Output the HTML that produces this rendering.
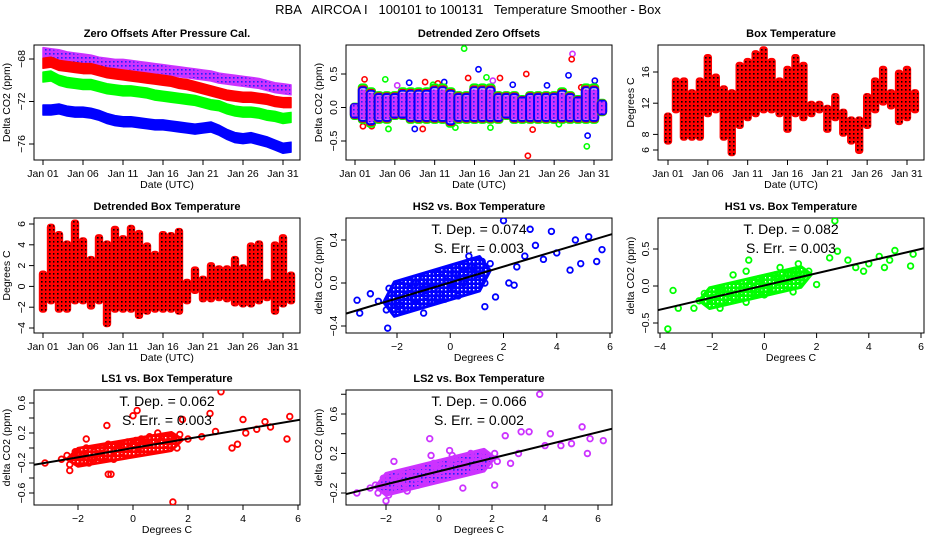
<!DOCTYPE html>
<html><head><meta charset="utf-8"><style>
body{margin:0;background:#fff;}
svg{display:block;font-family:"Liberation Sans",sans-serif;}
</style></head><body>
<svg id="c" width="936" height="540" viewBox="0 0 936 540">
<defs>
<pattern id="patRed" width="4" height="4" patternUnits="userSpaceOnUse"><rect width="4" height="4" fill="#ff0000"/><rect x="1" y="1" width="1.6" height="1.6" fill="#000"/></pattern>
<pattern id="patPurple" width="4" height="4" patternUnits="userSpaceOnUse"><rect width="4" height="4" fill="#cc33ff"/><rect x="1" y="1" width="1.6" height="1.6" fill="#2222ff"/></pattern>
<pattern id="patBlue" width="4" height="4" patternUnits="userSpaceOnUse"><rect width="4" height="4" fill="#0000ff"/><rect x="1" y="1" width="1.4" height="1.4" fill="#fff"/></pattern>
<pattern id="patGreen" width="4" height="4" patternUnits="userSpaceOnUse"><rect width="4" height="4" fill="#00ff00"/><rect x="1" y="1" width="1.4" height="1.4" fill="#fff"/></pattern>
<pattern id="patRed2" width="4" height="4" patternUnits="userSpaceOnUse"><rect width="4" height="4" fill="#ff0000"/><rect x="1" y="1" width="1.4" height="1.4" fill="#fff"/></pattern>
</defs>
<text x="468" y="14" font-size="13" text-anchor="middle" style="white-space:pre">RBA   AIRCOA I   100101 to 100131   Temperature Smoother - Box</text>
</svg>
<script>
// ---------- data ----------
const dayTicks = [0,5,10,15,20,25,30];
const dayTickLabels = ["Jan 01","Jan 06","Jan 11","Jan 16","Jan 21","Jan 26","Jan 31"];
const zeroLS2 = [-67.4,-67.5,-67.6,-67.8,-67.9,-68.0,-68.1,-68.3,-68.4,-68.5,-68.5,-68.6,-68.7,-68.8,-68.9,-69.0,-69.1,-69.2,-69.3,-69.4,-69.5,-69.6,-69.8,-69.9,-70.0,-70.1,-70.2,-70.3,-70.5,-70.7,-70.8,-70.9];
const zeroLS1 = [-68.4,-68.3,-68.6,-68.7,-68.8,-68.9,-68.9,-69.1,-69.3,-69.4,-69.5,-69.6,-69.7,-69.8,-69.9,-70.0,-70.1,-70.3,-70.4,-70.6,-70.8,-71.0,-71.2,-71.4,-71.5,-71.6,-71.6,-71.7,-71.8,-72.0,-72.1,-72.1];
const zeroHS1 = [-69.7,-69.6,-70.0,-70.2,-70.3,-70.4,-70.4,-70.6,-70.8,-70.9,-71.0,-71.0,-71.1,-71.2,-71.4,-71.5,-71.6,-71.7,-71.8,-71.9,-72.1,-72.3,-72.4,-72.7,-72.9,-73.0,-73.0,-73.1,-73.3,-73.4,-73.6,-73.5];
const zeroHS2 = [-72.8,-72.8,-72.7,-72.9,-73.0,-73.0,-73.1,-73.3,-73.6,-73.8,-73.9,-73.9,-74.0,-74.1,-74.2,-74.2,-74.3,-74.4,-74.5,-74.6,-74.5,-74.4,-74.7,-75.1,-75.4,-75.5,-75.4,-75.6,-75.8,-76.1,-76.4,-76.3];
const detLo = [-0.15,-0.2,-0.25,-0.2,-0.2,-0.15,-0.15,-0.2,-0.2,-0.2,-0.2,-0.2,-0.25,-0.2,-0.2,-0.2,-0.2,-0.2,-0.2,-0.15,-0.2,-0.2,-0.2,-0.2,-0.2,-0.2,-0.2,-0.2,-0.2,-0.2,-0.2,-0.1];
const detHi = [0.05,0.3,0.25,0.2,0.2,0.2,0.25,0.25,0.25,0.25,0.3,0.3,0.25,0.2,0.2,0.3,0.3,0.3,0.2,0.2,0.2,0.15,0.2,0.2,0.2,0.2,0.25,0.2,0.15,0.3,0.3,0.1];
const detOutDay = [13.7,15.5,21.7,21.5,27.3,27.2,14.2,29.1,29.2,3.8,1.2,4.2,8.5,8.8,22.3,26.8,9.8,16.5,17.3,7.5,18.2,11.2,2.1,5.3,12.6,19.8,24.1,30.1,1.0,6.8,10.4,17.0,25.6,28.4];
const detOutVal = [0.88,0.57,-0.72,0.5,0.8,0.72,0.44,-0.58,-0.42,0.42,0.42,-0.32,-0.32,0.38,-0.33,0.48,0.34,0.45,0.4,-0.32,0.44,0.38,-0.28,0.33,-0.3,0.34,0.33,0.4,-0.28,0.37,0.36,-0.3,-0.25,0.3];
const detOutCol = ["#00ff00","#0000ff","#ff0000","#ff0000","#cc33ff","#ff0000","#ff0000","#00ff00","#0000ff","#00ff00","#ff0000","#00ff00","#ff0000","#ff0000","#ff0000","#0000ff","#00ff00","#00ff00","#cc33ff","#0000ff","#ff0000","#0000ff","#ff0000","#cc33ff","#00ff00","#0000ff","#0000ff","#0000ff","#ff0000","#0000ff","#ff0000","#00ff00","#00ff00","#ff0000"];
const boxMin = [7,11,7.5,7.5,7.5,10.5,11,7.5,5.5,9,10,10.5,11,11,10.5,8.5,10.5,10,10.5,11,8.5,10,8,7,5.8,9,11,12,11.5,9.5,10,11];
const boxMax = [10.5,15,15,13.5,15,18,15.5,14,13.5,17,17.5,18.5,19,17.5,15,16.5,18,17,12,12,11.5,13,11,10,10,13,15,16.5,13.5,16,16.5,13.5];
const dtMin = [-2.3,-1.5,-2.3,-2.3,-1.5,-1.5,-2,-1.5,-3.7,-2.3,-2.3,-2.3,-2.9,-2.5,-2.3,-2.3,-2.3,-2.5,-1.5,-0.5,-1.3,-1.3,-1.2,-1.3,-1.7,-1.8,-1.8,-1.5,-1.2,-2.5,-1.8,-1.5];
const dtMax = [1.3,5.8,5.1,4.2,6.2,4.5,2.7,4.8,4.2,5.6,4.7,5.7,5.2,4.0,3.2,5.1,5.0,5.4,0.5,1.7,0.8,2.1,1.8,1.8,2.7,1.9,4.0,4.2,0.5,4.1,4.8,1.2];
const hs2X = [-2.4,-2.3,-2.2,-2.0,-1.9,-1.8,-1.7,-1.6,-1.5,-1.4,-1.3,-1.2,-1.1,-1.0,-0.9,-0.8,-0.7,-0.6,-0.5,-0.4,-0.3,-0.2,-0.1,0,0.1,0.2,0.3,0.4,0.5,0.6,0.7,0.8,0.9,1.0,1.1,1.2,1.3,1.5,-1.5,-1.0,-0.5,0,0.5,-2.0,-1.2,-0.3,0.3,0.8,-3.5,-3.4,-3.0,-2.7,-2.35,1.3,1.7,2.0,3.0,3.8,2.8,2.5,3.2,4.0,4.5,4.7,5.2,5.5,5.7,4.9,2.2,3.5,2.4];
const hs2Y = [-0.25,-0.05,-0.18,-0.1,-0.2,-0.02,-0.12,-0.25,-0.05,-0.15,0.0,-0.2,-0.08,-0.28,-0.12,0.0,-0.18,-0.05,0.1,-0.1,0.05,-0.15,0.02,0.12,-0.05,0.08,-0.12,0.15,0.0,0.1,0.25,0.05,0.15,0.08,0.12,0.2,0.0,0.18,-0.1,-0.05,-0.15,-0.05,0.05,-0.22,0.05,0.12,0.02,0.15,-0.16,-0.28,-0.1,-0.17,-0.42,-0.22,-0.13,0.58,0.5,0.48,0.25,0.15,0.35,0.28,0.12,0.4,0.43,0.2,0.31,0.18,0.0,0.22,-0.02];
const hs1X = [-2.5,-2.3,-2.1,-2.0,-1.8,-1.7,-1.5,-1.4,-1.3,-1.1,-1.0,-0.9,-0.8,-0.7,-0.6,-0.5,-0.4,-0.3,-0.2,-0.1,0,0.1,0.2,0.3,0.4,0.5,0.6,0.8,0.9,1.0,1.2,1.3,1.5,1.7,-1.9,-1.2,-0.6,0,0.6,1.1,-3.7,-3.5,-3.3,-2.7,-0.7,2.7,2.8,3.2,3.5,4.0,4.4,4.8,5.0,5.6,5.7,2.0,2.5,3.8,4.6,1.3,-1.7];
const hs1Y = [-0.2,-0.1,-0.25,-0.15,-0.2,-0.08,-0.18,-0.05,-0.2,-0.1,0.0,-0.15,-0.05,-0.22,0.02,-0.1,0.05,-0.08,0.1,0.0,0.05,-0.05,0.12,0.0,0.15,0.05,0.08,0.02,0.15,0.1,0.2,0.08,0.15,0.2,-0.05,0.15,0.35,-0.12,0.25,-0.08,-0.58,-0.06,-0.3,-0.3,0.2,0.88,0.47,0.35,0.25,0.3,0.4,0.35,0.48,0.27,0.43,0.02,0.38,0.2,0.25,0.3,-0.3];
const ls1X = [-2.6,-2.4,-2.3,-2.1,-2.0,-1.8,-1.7,-1.5,-1.4,-1.2,-1.1,-1.0,-0.9,-0.8,-0.6,-0.5,-0.4,-0.2,-0.1,0,0.1,0.2,0.3,0.5,0.6,0.7,0.9,1.0,1.2,1.4,1.5,1.7,2.0,-1.6,-0.7,0.2,0.9,1.6,-3.2,-0.95,-0.9,-0.8,0.0,0.15,1.45,1.8,2.8,3.2,3.6,3.8,4.0,4.1,4.8,5.0,5.6,5.7,2.5,3.0,4.5,-1.7,-2.3];
const ls1Y = [-0.15,-0.1,-0.22,-0.05,-0.18,-0.1,0.0,-0.15,-0.05,-0.12,0.0,-0.1,0.05,-0.08,0.0,0.05,-0.05,0.08,0.0,0.05,0.1,0.0,0.12,0.05,0.15,0.08,0.12,0.1,0.05,0.15,0.1,0.18,0.12,-0.2,-0.15,-0.05,0.2,0.0,-0.2,0.3,-0.35,-0.35,0.43,0.5,-0.72,0.38,0.46,0.75,0.0,0.05,0.38,0.2,0.35,0.28,0.12,0.42,0.15,0.22,0.25,0.12,-0.3];
const ls2X = [-2.4,-2.3,-2.1,-2.0,-1.9,-1.7,-1.6,-1.5,-1.3,-1.2,-1.1,-0.9,-0.8,-0.7,-0.5,-0.4,-0.3,-0.1,0,0.1,0.3,0.4,0.6,0.7,0.9,1.0,1.2,1.3,1.5,1.7,1.9,2.1,2.2,-1.8,-1.0,-0.2,0.5,1.4,-3.1,-2.6,-2.0,-1.7,-0.35,-0.3,0.4,1.2,0.9,2.1,2.5,3.1,3.4,3.8,4.0,4.2,4.6,5.0,5.4,5.6,5.7,6.2,3.0,2.7];
const ls2Y = [-0.12,-0.2,-0.05,-0.15,-0.22,-0.08,-0.15,-0.02,-0.1,-0.18,0.0,-0.05,-0.12,0.05,0.0,-0.08,0.08,0.02,0.1,0.03,0.12,0.05,0.15,0.08,0.12,0.1,0.15,0.05,0.12,0.18,0.08,0.2,0.12,-0.05,0.0,0.1,0.18,0.05,-0.2,-0.15,-0.28,0.12,0.35,0.18,0.23,0.2,-0.15,-0.12,0.38,0.42,0.42,0.8,0.28,0.4,0.28,0.3,0.47,0.2,0.35,0.33,0.2,0.1];
const fitB = [0.005,0.008,0.0,0.02];
const fitM = [0.074,0.082,0.062,0.066];
const cloudX0 = [-2.5,-2.5,-2.4,-2.4];
const cloudX1 = [1.5,1.8,1.8,2.1];
const cloudH = [0.16,0.14,0.12,0.11];

// ---------- drawing ----------
const NS="http://www.w3.org/2000/svg";
const svg=document.getElementById('c');
function el(tag,attrs,parent){const e=document.createElementNS(NS,tag);for(const k in attrs)e.setAttribute(k,attrs[k]);(parent||svg).appendChild(e);return e;}
function makePanel(o){
  const g=el('g',{});
  
  
  const sx=v=>o.px0+(v-o.x0)*(o.px1-o.px0)/(o.x1-o.x0);
  const sy=v=>o.py0+(v-o.y0)*(o.py1-o.py0)/(o.y1-o.y0);
  const box=el('rect',{x:o.L,y:o.T,width:o.R-o.L,height:o.B-o.T,fill:'none',stroke:'#000','stroke-width':1},g);
  
  
  const t=el('text',{x:(o.L+o.R)/2,y:o.T-8,'font-size':11,'font-weight':'bold','text-anchor':'middle'},g);
  t.textContent=o.title;
  
  
  const xa=el('g',{},g);
  
  
  el('line',{x1:sx(o.xt[0]),x2:sx(o.xt[o.xt.length-1]),y1:o.B,y2:o.B,stroke:'#000'},xa);
  o.xt.forEach((v,i)=>{const x=sx(v);el('line',{x1:x,x2:x,y1:o.B,y2:o.B+5,stroke:'#000'},xa);
    const tx=el('text',{x:x,y:o.B+17,'font-size':10.5,'text-anchor':'middle'},xa);tx.textContent=o.xl[i];
    
    });
  const xl=el('text',{x:(o.L+o.R)/2,y:o.B+28,'font-size':10.5,'text-anchor':'middle'},g);xl.textContent=o.xlab;
  
  
  const ya=el('g',{},g);
  
  
  el('line',{x1:o.L,x2:o.L,y1:sy(o.yt[0]),y2:sy(o.yt[o.yt.length-1]),stroke:'#000'},ya);
  o.yt.forEach((v,i)=>{const y=sy(v);el('line',{x1:o.L-5,x2:o.L,y1:y,y2:y,stroke:'#000'},ya);
    const ty=el('text',{x:o.L-9,y:y,'font-size':10.5,'text-anchor':'middle',transform:`rotate(-90 ${o.L-9} ${y})`},ya);ty.textContent=o.yl[i];
    
    });
  const yx=o.L-24,yy=(o.T+o.B)/2;
  const yl=el('text',{x:yx,y:yy,'font-size':10.5,'text-anchor':'middle',transform:`rotate(-90 ${yx} ${yy})`},g);yl.textContent=o.ylab;
  
  
  const clip='cl'+o.name;
  const cp=el('clipPath',{id:clip},g);el('rect',{x:o.L,y:o.T,width:o.R-o.L,height:o.B-o.T},cp);
  const plot=el('g',{'clip-path':`url(#${clip})`},g);
  return {g,plot,sx,sy};
}
function dot(p,x,y,col,name){const c=el('circle',{cx:x,cy:y,r:2.6,fill:'none',stroke:col,'stroke-width':1.6},p);
  
  }
function dayBars(P,lo,hi,fill,name){
  lo.forEach((v,i)=>{
    const x=P.sx(i), w=(P.sx(1)-P.sx(0))*0.95, y1=P.sy(hi[i]), y2=P.sy(lo[i]);
    const r=el('rect',{x:x-w/2,y:Math.min(y1,y2)-2,width:w,height:Math.abs(y2-y1)+4,rx:3,fill:fill,stroke:'#ff0000','stroke-width':0.8},P.plot);
    
    
  });
}
// Panel 1
let P=makePanel({name:'zero-offsets-panel',title:'Zero Offsets After Pressure Cal.',L:34,R:300,T:45,B:160,x0:0,x1:30,px0:43,px1:283,y0:-68,y1:-76,py0:59,py1:144,xt:dayTicks,xl:dayTickLabels,yt:[-68,-72,-76],yl:['−68','−72','−76'],xlab:'Date (UTC)',ylab:'Delta CO2 (ppm)'});
[[zeroLS2,'url(#patPurple)','#cc33ff','ls2-series'],[zeroLS1,'#ff0000','#ff0000','ls1-series'],[zeroHS1,'#00ff00','#00ff00','hs1-series'],[zeroHS2,'#0000ff','#0000ff','hs2-series']].forEach(([a,f,c,n])=>{
  const up=a.map((v,i)=>P.sx(i)+','+(P.sy(v)-5)), dn=a.map((v,i)=>P.sx(i)+','+(P.sy(v)+5)).reverse();
  const pl=el('polygon',{points:up.concat(dn).join(' '),fill:f,stroke:c,'stroke-width':1.5,'stroke-linejoin':'round'},P.plot);
  
  
});
// Panel 2
P=makePanel({name:'detrended-zero-offsets-panel',title:'Detrended Zero Offsets',L:346,R:612,T:45,B:160,x0:0,x1:30,px0:355,px1:594,y0:0.5,y1:-0.5,py0:74,py1:141,xt:dayTicks,xl:dayTickLabels,yt:[-0.5,0,0.5],yl:['−0.5','0.0','0.5'],xlab:'Date (UTC)',ylab:'Delta CO2 (ppm)'});
detOutDay.forEach((d,i)=>dot(P.plot,P.sx(d),P.sy(detOutVal[i]),detOutCol[i],'detrended-outlier'));
detLo.forEach((v,i)=>{
  const x=P.sx(i), w=(P.sx(1)-P.sx(0))*1.05;
  [['#00ff00',1.15],['#ff0000',1.05],['#0000ff',1.0]].forEach(([c,s])=>{
    const r=el('rect',{x:x-w/2,y:P.sy(detHi[i]*s),width:w,height:P.sy(v*s)-P.sy(detHi[i]*s),rx:3,fill:'none',stroke:c,'stroke-width':2},P.plot);
    
    
  });
  const r=el('rect',{x:x-w/2+1,y:P.sy(detHi[i]*0.9),width:w-2,height:P.sy(v*0.9)-P.sy(detHi[i]*0.9),fill:'url(#patPurple)'},P.plot);
  
  
});
// Panel 3
P=makePanel({name:'box-temperature-panel',title:'Box Temperature',L:658,R:924,T:45,B:160,x0:0,x1:30,px0:668,px1:907,y0:16,y1:6,py0:72,py1:150,xt:dayTicks,xl:dayTickLabels,yt:[6,8,12,16],yl:['6','8','12','16'],xlab:'Date (UTC)',ylab:'Degrees C'});
dayBars(P,boxMin,boxMax,'url(#patRed)','box-temperature-day');
// Panel 4
P=makePanel({name:'detrended-box-temperature-panel',title:'Detrended Box Temperature',L:34,R:300,T:218,B:333,x0:0,x1:30,px0:43,px1:283,y0:6,y1:-4,py0:224,py1:328,xt:dayTicks,xl:dayTickLabels,yt:[-4,-2,0,2,4,6],yl:['−4','−2','0','2','4','6'],xlab:'Date (UTC)',ylab:'Degrees C'});
dayBars(P,dtMin,dtMax,'url(#patRed)','detrended-box-temperature-day');
// scatter panels
const sc=[
 {name:'hs2-vs-box-panel',title:'HS2 vs. Box Temperature',L:346,R:612,T:218,B:333,x0:-2,x1:6,px0:397,px1:610,y0:0.4,y1:-0.4,py0:240,py1:326,xt:[-2,0,2,4,6],yt:[-0.4,0,0.4],yl:['−0.4','0.0','0.4'],xs:hs2X,ys:hs2Y,col:'#0000ff',pat:'url(#patBlue)',td:'0.074',se:'0.003',xmin:-3.9,xmax:6.2},
 {name:'hs1-vs-box-panel',title:'HS1 vs. Box Temperature',L:658,R:924,T:218,B:333,x0:-4,x1:6,px0:660,px1:921,y0:0.5,y1:-0.5,py0:249,py1:323,xt:[-4,-2,0,2,4,6],yt:[-0.5,0,0.5],yl:['−0.5','0.0','0.5'],xs:hs1X,ys:hs1Y,col:'#00ff00',pat:'url(#patGreen)',td:'0.082',se:'0.003',xmin:-4.1,xmax:6.1},
 {name:'ls1-vs-box-panel',title:'LS1 vs. Box Temperature',L:34,R:300,T:390,B:505,x0:-2,x1:6,px0:78,px1:298,y0:0.6,y1:-0.6,py0:403,py1:493,xt:[-2,0,2,4,6],yt:[-0.6,-0.4,-0.2,0,0.2,0.4,0.6],yl:['−0.6','','−0.2','','0.2','','0.6'],xs:ls1X,ys:ls1Y,col:'#ff0000',pat:'url(#patRed2)',td:'0.062',se:'0.003',xmin:-3.6,xmax:6.1},
 {name:'ls2-vs-box-panel',title:'LS2 vs. Box Temperature',L:346,R:612,T:390,B:505,x0:-2,x1:6,px0:386,px1:598,y0:0.6,y1:-0.2,py0:414,py1:493,xt:[-2,0,2,4,6],yt:[-0.2,0,0.2,0.4,0.6,0.8],yl:['−0.2','','0.2','','0.6',''],xs:ls2X,ys:ls2Y,col:'#cc33ff',pat:'url(#patPurple)',td:'0.066',se:'0.002',xmin:-3.5,xmax:6.6}
];
sc.forEach((o,k)=>{
  o.xl=o.xt.map(v=>v<0?'−'+(-v):''+v);o.xlab='Degrees C';o.ylab='delta CO2 (ppm)';
  const P=makePanel(o);
  const fy=x=>fitB[k]+fitM[k]*x;
  const a0=cloudX0[k],a1=cloudX1[k],h=cloudH[k];
  const pts=[[a0,fy(a0)],[a0+0.4,fy(a0+0.4)+h],[a1-0.4,fy(a1-0.4)+h],[a1,fy(a1)],[a1-0.4,fy(a1-0.4)-h],[a0+0.4,fy(a0+0.4)-h]];
  const cl=el('polygon',{points:pts.map(p=>P.sx(p[0])+','+P.sy(p[1])).join(' '),fill:o.pat,stroke:o.col,'stroke-width':3,'stroke-linejoin':'round'},P.plot);
  
  
  o.xs.forEach((x,i)=>{const c=el('circle',{cx:P.sx(x),cy:P.sy(o.ys[i]),r:2.8,fill:'none',stroke:o.col,'stroke-width':1.8},P.plot);
    
    });
  const ln=el('line',{x1:P.sx(o.xmin),y1:P.sy(fy(o.xmin)),x2:P.sx(o.xmax),y2:P.sy(fy(o.xmax)),stroke:'#000','stroke-width':2},P.plot);
  
  
  const cx=(o.L+o.R)/2;
  const a=el('text',{x:cx,y:o.T+16,'font-size':14,'text-anchor':'middle'},P.g);a.textContent='T. Dep. =  '+o.td;
  
  
  const b=el('text',{x:cx,y:o.T+35,'font-size':14,'text-anchor':'middle'},P.g);b.textContent='S. Err. =  '+o.se;
  
  
});
</script>
</body></html>
